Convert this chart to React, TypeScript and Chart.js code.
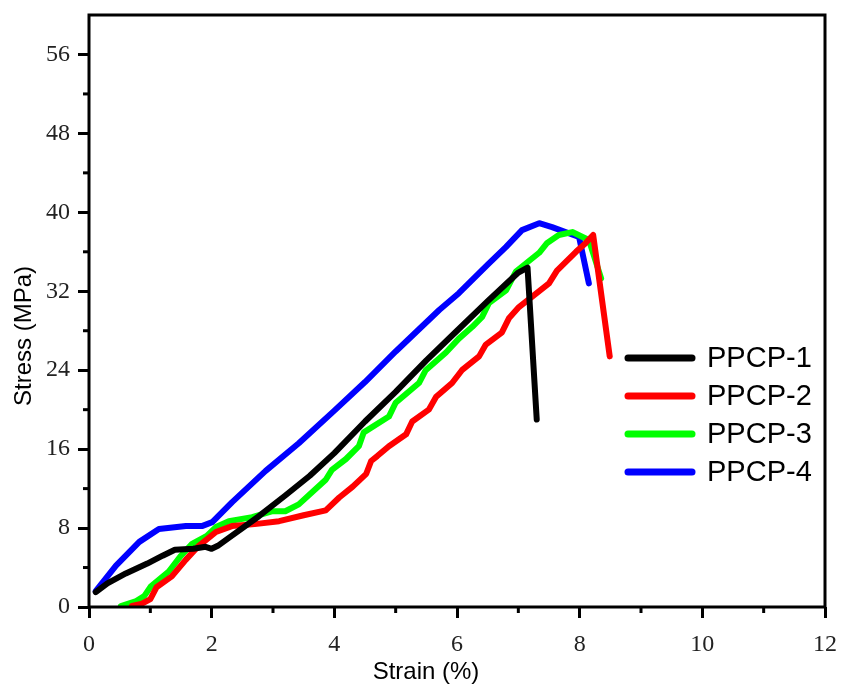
import React, { useEffect, useRef } from "react";
import { Chart, registerables } from "chart.js";

Chart.register(...registerables);

const seriesLabels = ["PPCP-1", "PPCP-2", "PPCP-3", "PPCP-4"];
const seriesColors = ["#000000", "#ff0000", "#00ff00", "#0000ff"];

const ppcp1Strain = [0.11, 0.3, 0.6, 0.95, 1.2, 1.4, 1.7, 1.9, 2.0, 2.1, 2.28, 2.77, 3.2, 3.6, 4.0, 4.5, 5.0, 5.5, 6.0, 6.5, 7.0, 7.15, 7.3];
const ppcp1Stress = [1.5, 2.4, 3.4, 4.4, 5.2, 5.8, 5.9, 6.1, 5.9, 6.2, 7.0, 9.2, 11.3, 13.3, 15.6, 18.8, 21.8, 25.0, 28.0, 31.0, 33.9, 34.4, 19.0];

const ppcp2Strain = [0.7, 0.85, 1.0, 1.1, 1.35, 1.58, 1.79, 2.07, 2.33, 2.7, 3.1, 3.5, 3.86, 4.08, 4.3, 4.52, 4.6, 4.7, 4.89, 5.17, 5.27, 5.54, 5.66, 5.92, 6.08, 6.36, 6.47, 6.73, 6.85, 7.01, 7.5, 7.63, 7.94, 8.1, 8.22, 8.49];
const ppcp2Stress = [0.1, 0.3, 0.8, 2.0, 3.1, 4.8, 6.2, 7.6, 8.2, 8.4, 8.7, 9.3, 9.8, 11.1, 12.2, 13.5, 14.8, 15.3, 16.3, 17.5, 18.8, 20.0, 21.3, 22.7, 24.0, 25.4, 26.6, 27.8, 29.3, 30.4, 32.8, 34.1, 36.0, 36.9, 37.7, 25.4];

const ppcp3Strain = [0.52, 0.77, 0.9, 1.01, 1.3, 1.5, 1.68, 1.92, 2.07, 2.28, 2.66, 2.98, 3.2, 3.42, 3.86, 3.96, 4.19, 4.4, 4.48, 4.89, 5.0, 5.38, 5.49, 5.82, 6.03, 6.25, 6.41, 6.52, 6.8, 6.96, 7.34, 7.47, 7.66, 7.88, 8.15, 8.35];
const ppcp3Stress = [0.1, 0.6, 1.1, 2.1, 3.6, 5.2, 6.4, 7.2, 8.1, 8.7, 9.1, 9.7, 9.7, 10.4, 12.9, 13.9, 15.0, 16.3, 17.7, 19.3, 20.7, 22.7, 24.0, 25.8, 27.2, 28.4, 29.4, 30.8, 32.1, 34.0, 35.9, 36.9, 37.7, 38.0, 37.2, 33.3];

const ppcp4Strain = [0.11, 0.44, 0.82, 1.14, 1.58, 1.84, 2.01, 2.33, 2.88, 3.42, 4.0, 4.5, 5.0, 5.71, 6.03, 6.5, 6.8, 7.06, 7.34, 7.55, 7.99, 8.15];
const ppcp4Stress = [1.6, 4.2, 6.6, 7.9, 8.2, 8.2, 8.6, 10.6, 13.8, 16.6, 19.9, 22.8, 25.9, 30.1, 31.8, 34.7, 36.5, 38.2, 38.9, 38.5, 37.5, 32.8];

const strainSeries = [ppcp1Strain, ppcp2Strain, ppcp3Strain, ppcp4Strain];
const stressSeries = [ppcp1Stress, ppcp2Stress, ppcp3Stress, ppcp4Stress];

const xTitle = "Strain (%)";
const yTitle = "Stress (MPa)";

const SANS = "'Liberation Sans', Arial, sans-serif";
const SERIF = "'Liberation Serif', 'Times New Roman', serif";

const decorPlugin = {
  id: "decor",
  afterDraw(chart: any) {
    const { ctx, chartArea } = chart;
    const xs = chart.scales.x;
    const ys = chart.scales.y;
    ctx.save();
    ctx.strokeStyle = "#000";
    ctx.lineWidth = 3;
    ctx.strokeRect(chartArea.left, chartArea.top, chartArea.right - chartArea.left, chartArea.bottom - chartArea.top);
    for (let v = 1; v < 12; v += 2) {
      const px = xs.getPixelForValue(v);
      ctx.beginPath();
      ctx.moveTo(px, chartArea.bottom);
      ctx.lineTo(px, chartArea.bottom + 6);
      ctx.stroke();
    }
    for (let v = 4; v < 60; v += 8) {
      const py = ys.getPixelForValue(v);
      ctx.beginPath();
      ctx.moveTo(chartArea.left, py);
      ctx.lineTo(chartArea.left - 6, py);
      ctx.stroke();
    }
    ctx.fillStyle = "#000";
    ctx.font = `24px ${SANS}`;
    ctx.textAlign = "center";
    ctx.textBaseline = "middle";
    ctx.fillText(xTitle, 426, 672);
    ctx.save();
    ctx.translate(24, 336);
    ctx.rotate(-Math.PI / 2);
    ctx.fillText(yTitle, 0, 0);
    ctx.restore();
    const legendY = [358, 396, 434, 472];
    ctx.lineCap = "round";
    ctx.lineWidth = 7;
    ctx.font = `29px ${SANS}`;
    ctx.textAlign = "left";
    seriesLabels.forEach((label, i) => {
      ctx.strokeStyle = seriesColors[i];
      ctx.beginPath();
      ctx.moveTo(628, legendY[i]);
      ctx.lineTo(692, legendY[i]);
      ctx.stroke();
      ctx.fillStyle = "#000";
      ctx.fillText(label, 707, legendY[i] + 1);
    });
    ctx.restore();
  },
};

const zeroPad = (s: any) => {
  s.paddingTop = 0;
  s.paddingBottom = 0;
  s.paddingLeft = 0;
  s.paddingRight = 0;
};

export default function App() {
  const ref = useRef<HTMLCanvasElement | null>(null);
  useEffect(() => {
    if (!ref.current) return;
    const datasets = seriesLabels.map((label, i) => ({
      label,
      data: strainSeries[i].map((x, j) => ({ x, y: stressSeries[i][j] })),
      borderColor: seriesColors[i],
      backgroundColor: seriesColors[i],
      borderWidth: 6,
      pointRadius: 0,
      tension: 0,
      borderCapStyle: "round" as const,
      borderJoinStyle: "round" as const,
      fill: false,
    }));
    const chart = new Chart(ref.current, {
      type: "line",
      data: { datasets },
      options: {
        animation: false,
        responsive: false,
        devicePixelRatio: 1,
        layout: { padding: { top: 15, right: 16, left: 0, bottom: 0 } },
        plugins: { legend: { display: false }, tooltip: { enabled: false } },
        scales: {
          x: {
            type: "linear",
            min: 0,
            max: 12,
            border: { display: false },
            grid: { drawOnChartArea: false, drawTicks: true, tickLength: 11, color: "#000", lineWidth: 3 },
            ticks: { stepSize: 2, color: "#222", font: { family: SERIF, size: 24 }, padding: 12, maxRotation: 0 },
            afterFit: (s: any) => { s.height = 81; zeroPad(s); },
          },
          y: {
            type: "linear",
            min: 0,
            max: 60,
            border: { display: false },
            grid: { drawOnChartArea: false, drawTicks: true, tickLength: 11, color: "#000", lineWidth: 3 },
            ticks: { stepSize: 8, includeBounds: false, color: "#222", font: { family: SERIF, size: 24 }, padding: 8 },
            afterFit: (s: any) => { s.width = 89; zeroPad(s); },
          },
        },
      },
      plugins: [decorPlugin],
    });
    return () => chart.destroy();
  }, []);
  return (
    <canvas
      ref={ref}
      width={841}
      height={688}
      style={{ position: "absolute", left: 0, top: 0, width: 841, height: 688, background: "#fff" }}
    />
  );
}
